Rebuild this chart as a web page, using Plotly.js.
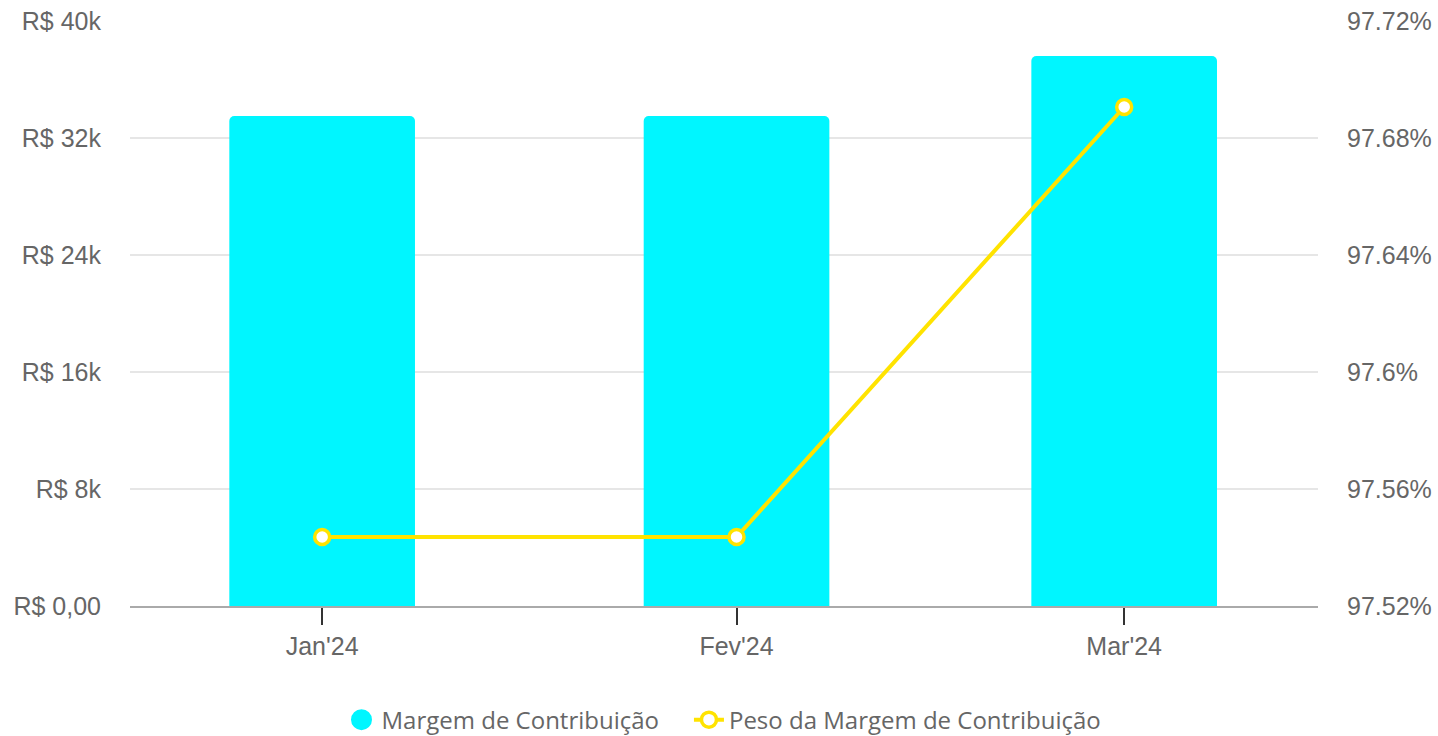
<!DOCTYPE html>
<html>
<head>
<meta charset="utf-8">
<script src="https://cdn.plot.ly/plotly-3.0.1.min.js"></script>
<style>
html,body{margin:0;padding:0;background:#fff;}
#chart{width:1438px;height:736px;}
</style>
</head>
<body>
<div id="chart"></div>
<script>
var meses = ['2024-01-01', '2024-02-01', '2024-03-01'];
var rotulosMeses = ["Jan'24", "Fev'24", "Mar'24"];
var margem = [33500, 33500, 37600];
var peso = [97.5436, 97.5436, 97.6906];
var yValsEsq = [0, 8000, 16000, 24000, 32000, 40000];
var yTextEsq = ['R$ 0,00', 'R$ 8k', 'R$ 16k', 'R$ 24k', 'R$ 32k', 'R$ 40k'];
var yValsDir = [97.52, 97.56, 97.60, 97.64, 97.68, 97.72];
var yTextDir = ['97.52%', '97.56%', '97.6%', '97.64%', '97.68%', '97.72%'];

var ciano = '#00F6FF';
var amarelo = '#FFE300';
var tickFont = {family: 'Liberation Sans, Arial, sans-serif', size: 25, color: '#666666'};
var nbsp = '\u00A0\u00A0\u00A0\u00A0';

var traces = [
  {
    type: 'bar', x: meses, y: margem, name: 'Margem de Contribuição',
    width: 1.2e9, marker: {color: ciano, cornerradius: 5},
    showlegend: false, hoverinfo: 'skip'
  },
  {
    type: 'scatter', mode: 'markers', x: [null], y: [null],
    name: 'Margem de Contribuição' + nbsp,
    marker: {color: ciano, size: 16, symbol: 'circle', line: {color: ciano, width: 5}},
    showlegend: true
  },
  {
    type: 'scatter', mode: 'lines+markers', x: meses, y: peso, yaxis: 'y2',
    name: 'Peso da Margem de Contribuição',
    line: {color: amarelo, width: 4},
    marker: {color: '#ffffff', size: 15, line: {color: amarelo, width: 3.5}},
    cliponaxis: false
  }
];

var layout = {
  width: 1438, height: 736,
  margin: {l: 130, r: 120, t: 21, b: 130},
  paper_bgcolor: '#ffffff', plot_bgcolor: '#ffffff',
  showlegend: true,
  legend: {
    orientation: 'h', x: 0.5, xanchor: 'center',
    yref: 'container', y: 0.0217, yanchor: 'middle',
    font: {family: 'Open Sans, sans-serif', size: 24, color: '#666666'}
  },
  xaxis: {
    type: 'date',
    range: ['2023-12-17 15:00', '2024-03-15 12:00'],
    tickvals: meses, ticktext: rotulosMeses,
    ticks: 'outside', ticklen: 17, tickwidth: 2, tickcolor: '#333333',
    showline: true, linecolor: '#aaaaaa', linewidth: 2,
    showgrid: false, zeroline: false,
    tickfont: tickFont
  },
  yaxis: {
    range: [0, 40000], tickvals: yValsEsq, ticktext: yTextEsq,
    showgrid: true, gridcolor: '#e6e6e6', gridwidth: 2,
    zeroline: false, showline: false, ticks: '',
    ticklabelstandoff: 28,
    tickfont: tickFont
  },
  yaxis2: {
    overlaying: 'y', side: 'right',
    range: [97.52, 97.72], tickvals: yValsDir, ticktext: yTextDir,
    showgrid: false, zeroline: false, showline: false, ticks: '',
    ticklabelstandoff: 28,
    tickfont: tickFont
  }
};

Plotly.newPlot('chart', traces, layout, {displayModeBar: false, staticPlot: true});
</script>
</body>
</html>
